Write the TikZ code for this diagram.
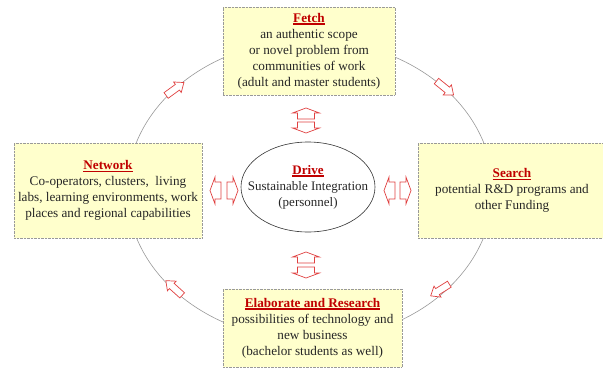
\documentclass[tikz,border=0pt]{standalone}
\usepackage{fontspec}
\setmainfont{Liberation Serif}
\usetikzlibrary{shapes.geometric}
\definecolor{titlered}{HTML}{C00000}
\definecolor{arrowred}{HTML}{E04040}
\definecolor{boxfill}{HTML}{FFFFCC}
\newcommand{\heading}[1]{\textcolor{titlered}{\bfseries\sbox0{#1}\rlap{\rule[-2.6pt]{\wd0}{1.4pt}}\usebox0}}
\tikzset{%
    infobox/.style={draw=gray!80, densely dotted, fill=boxfill, align=center,
        inner sep=2pt, text=black!85, font=\fontsize{13.2}{16}\selectfont},
    ring/.style={draw=gray!80, line width=0.6pt},
    arrowline/.style={draw=arrowred, fill=white, line width=0.7pt},
    pics/pairarrow/.style={code={%
        \draw[arrowline] (0,-8.5) -- (6,-8.5) -- (6,-13.5) -- (11,0) -- (6,13.5) -- (6,8.5) -- (0,8.5) -- cycle;}},
    pics/ringarrow/.style={code={%
        \draw[arrowline] (-11,-3.5) -- (3,-3.5) -- (3,-6.5) -- (11,0) -- (3,6.5) -- (3,3.5) -- (-11,3.5) -- cycle;}}
}

\begin{document}
\begin{tikzpicture}[x=1pt,y=-1pt]
    \clip (0,0) rectangle (603,370);
    % the outer cycle
    \draw[ring] (310,190) ellipse [x radius=183, y radius=150];
    \pic[rotate=36] at (175,89) {ringarrow};
    \pic[rotate=-39] at (445,88) {ringarrow};
    \pic[rotate=-148] at (440,290) {ringarrow};
    \pic[rotate=138] at (174,288) {ringarrow};
    % the four stages
    \node[infobox, minimum width=172pt, minimum height=88pt] (fetch) at (309,51)
        {\heading{Fetch}\\an authentic scope\\or novel problem from\\communities of work\\(adult and master students)};
    \node[infobox, minimum width=188pt, minimum height=95pt] (network) at (108,190.5)
        {\heading{Network}\\Co-operators, clusters,\ \ living\\labs, learning environments, work\\places and regional capabilities};
    \node[infobox, minimum width=188pt, minimum height=95pt] (search) at (512,190.5)
        {\heading{Search}\\potential R\&D programs and\\other Funding};
    \node[infobox, minimum width=179pt, minimum height=78pt] (elaborate) at (312.5,328)
        {\heading{Elaborate and Research}\\possibilities of technology and\\new business\\(bachelor students as well)};
    % the centre
    \node[draw=black!80, line width=0.6pt, ellipse, minimum width=134pt, minimum height=90pt,
        inner sep=0pt] (drive) at (308,187) {};
    \node[align=center, inner sep=0pt, text=black!85, font=\fontsize{13}{16}\selectfont] (drivetext) at (drive.center)
        {\heading{Drive}\\Sustainable Integration\\(personnel)};
    \pic[rotate=90] at (306,119) {pairarrow};
    \pic[rotate=-90] at (306,122) {pairarrow};
    \pic[rotate=90] at (306,263) {pairarrow};
    \pic[rotate=-90] at (306,267) {pairarrow};
    \pic[rotate=180] at (221,190.5) {pairarrow};
    \pic at (227,190.5) {pairarrow};
    \pic[rotate=180] at (395,190.5) {pairarrow};
    \pic at (400,190.5) {pairarrow};
\end{tikzpicture}
\end{document}
